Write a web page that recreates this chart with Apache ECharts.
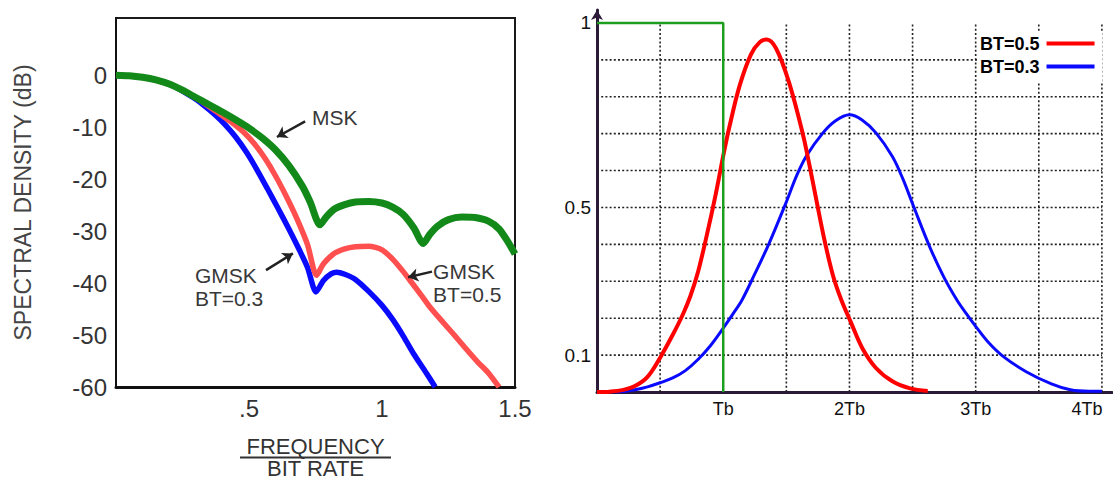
<!DOCTYPE html>
<html>
<head>
<meta charset="utf-8">
<script src="https://cdn.jsdelivr.net/npm/echarts@6/dist/echarts.min.js"></script>
<style>
  html, body { margin: 0; padding: 0; background: #ffffff; }
  #chart { width: 1113px; height: 479px; }
</style>
</head>
<body>
<div id="chart"></div>
<script>
// ---- Power spectral density (dB) vs normalised frequency f/Rb ----
const mskSpectrum = [
  [0, 0], [0.05, -0.1], [0.1, -0.4], [0.15, -0.9], [0.2, -1.7], [0.25, -2.9],
  [0.3, -4.3], [0.35, -5.7], [0.4, -7.1], [0.45, -8.6], [0.5, -10.2], [0.55, -12.1],
  [0.6, -14.4], [0.65, -17.4], [0.7, -21.3], [0.73, -24.4], [0.767, -28.8],
  [0.79, -27.3], [0.82, -25.8], [0.86, -24.9], [0.9, -24.4], [0.95, -24.3],
  [1.0, -24.6], [1.04, -25.4], [1.08, -26.8], [1.12, -29.4], [1.155, -32.4],
  [1.18, -30.6], [1.21, -29.0], [1.25, -27.8], [1.3, -27.3], [1.35, -27.4],
  [1.4, -28.1], [1.44, -29.6], [1.47, -31.8], [1.5, -34.4]
];
const gmsk05Spectrum = [
  [0, 0], [0.1, -0.4], [0.2, -1.7], [0.3, -4.3], [0.38, -7.1], [0.43, -8.9],
  [0.48, -11.0], [0.52, -13.2], [0.56, -16.0], [0.6, -19.4], [0.64, -23.3],
  [0.68, -27.6], [0.72, -32.6], [0.754, -38.5], [0.78, -36.3], [0.82, -34.3],
  [0.86, -33.4], [0.9, -33.0], [0.95, -32.9], [1.0, -33.6], [1.04, -35.4],
  [1.08, -37.8], [1.11, -39.8], [1.15, -42.5], [1.18, -44.6], [1.22, -47.0],
  [1.27, -49.9], [1.31, -52.3], [1.36, -55.2], [1.4, -57.3], [1.44, -60]
];
const gmsk03Spectrum = [
  [0, 0], [0.1, -0.4], [0.2, -1.7], [0.29, -4.3], [0.33, -5.8], [0.37, -7.5],
  [0.41, -9.5], [0.45, -11.9], [0.49, -14.8], [0.53, -18.2], [0.57, -21.9],
  [0.61, -25.7], [0.65, -29.6], [0.69, -33.7], [0.72, -37.0], [0.752, -41.7],
  [0.78, -39.5], [0.81, -38.2], [0.83, -37.9], [0.86, -38.3], [0.9, -39.3],
  [0.95, -41.6], [1.0, -44.3], [1.04, -47.0], [1.08, -50.2], [1.12, -53.7],
  [1.16, -56.8], [1.19, -59.2], [1.2, -60]
];
const freqTickLabels = { 0.5: '.5', 1: '1', 1.5: '1.5' };

// ---- Pulse shapes vs time (in bit periods Tb) ----
const rectPulse = [[0, 1], [1, 1], [1, 0]];
const gaussPulse05 = [
  [0, 0], [0.1, 0.001], [0.2, 0.005], [0.3, 0.016], [0.4, 0.041], [0.5, 0.093],
  [0.6, 0.155], [0.68, 0.21], [0.74, 0.26], [0.8, 0.325], [0.87, 0.425], [0.94, 0.535],
  [1.0, 0.64], [1.05, 0.72], [1.13, 0.83], [1.22, 0.915], [1.29, 0.948],
  [1.345, 0.955], [1.42, 0.93], [1.52, 0.84], [1.63, 0.70], [1.68, 0.62],
  [1.735, 0.525], [1.8, 0.415], [1.87, 0.315], [1.935, 0.25], [2.01, 0.19],
  [2.1, 0.12], [2.21, 0.065], [2.34, 0.029], [2.48, 0.01], [2.62, 0.003]
];
const gaussPulse03 = [
  [0, 0], [0.2, 0.001], [0.3, 0.006], [0.4, 0.014], [0.5, 0.025], [0.6, 0.038],
  [0.7, 0.058], [0.8, 0.088], [0.9, 0.126], [1.0, 0.173], [1.08, 0.213],
  [1.15, 0.25], [1.25, 0.32], [1.36, 0.4], [1.5, 0.515], [1.58, 0.585],
  [1.66, 0.64], [1.79, 0.702], [1.89, 0.735], [2.0, 0.751], [2.1, 0.737],
  [2.21, 0.702], [2.34, 0.638], [2.42, 0.58], [2.5, 0.51], [2.64, 0.39],
  [2.75, 0.31], [2.85, 0.25], [2.92, 0.215], [3.0, 0.178], [3.1, 0.135],
  [3.22, 0.096], [3.4, 0.055], [3.6, 0.022], [3.75, 0.006], [3.9, 0.002], [4.0, 0.002]
];
const timeTickLabels = { 1: 'Tb', 2: '2Tb', 3: '3Tb', 4: '4Tb' };
const ampTickLabels = { 0.1: '0.1', 0.5: '0.5', 1: '1' };
const timeGridValues = [0.5, 1, 1.5, 2, 2.5, 3, 3.5, 4];
const ampGridValues = [0.1, 0.2, 0.3, 0.4, 0.5, 0.6, 0.7, 0.8, 0.9];

const FONT = "'Liberation Sans', Arial, Helvetica, sans-serif";

function lookup(table, v) {
  for (const k in table) {
    if (Math.abs(parseFloat(k) - v) < 1e-6) return table[k];
  }
  return '';
}

// dotted reference grid of the pulse plot
function gridRenderer(vertical) {
  return function (params, api) {
    const v = api.value(0);
    const a = vertical ? api.coord([v, 0]) : api.coord([0, v]);
    const b = vertical ? api.coord([v, 1]) : api.coord([4, v]);
    return {
      type: 'line',
      shape: { x1: a[0], y1: a[1], x2: b[0], y2: b[1] },
      style: { stroke: '#222', lineWidth: 1.6, lineDash: [2, 2.2] },
      silent: true
    };
  };
}

function anno(coord, text) {
  return {
    coord: coord,
    label: {
      show: true, formatter: text, fontFamily: FONT, fontSize: 21, color: '#383838',
      align: 'left', verticalAlign: 'middle', position: [0, 0]
    }
  };
}

const option = {
  animation: false,
  backgroundColor: '#ffffff',
  textStyle: { fontFamily: FONT },
  grid: [
    { left: 116, top: 18, width: 399, height: 369, show: true, outerBoundsMode: 'none',
      borderColor: '#1a1a1a', borderWidth: 2, backgroundColor: 'transparent' },
    { left: 597, top: 10, width: 515, height: 382, outerBoundsMode: 'none' }
  ],
  legend: {
    data: ['BT=0.5', 'BT=0.3'],
    orient: 'vertical',
    left: 978, top: 32,
    padding: [2, 8, 6, 2],
    itemGap: 4,
    itemWidth: 48, itemHeight: 4,
    icon: 'rect',
    align: 'right',
    backgroundColor: '#ffffff',
    textStyle: { fontFamily: FONT, fontSize: 18, fontWeight: 'bold', color: '#000',
      lineHeight: 19, padding: [0, 2, 0, 0] }
  },
  xAxis: [
    {
      gridIndex: 0, type: 'value', min: 0, max: 1.5, interval: 0.5,
      axisLine: { show: true, onZero: false, lineStyle: { color: '#111', width: 3 } },
      axisTick: { show: false }, splitLine: { show: false },
      axisLabel: { margin: 9, fontSize: 24, color: '#333', fontFamily: FONT,
        formatter: v => lookup(freqTickLabels, v) },
      name: '{a|FREQUENCY}\n{bar|}\n{b|BIT RATE}',
      nameLocation: 'middle', nameGap: 50,
      nameTextStyle: {
        rich: {
          a: { fontSize: 22, color: '#333', fontFamily: FONT, lineHeight: 19, align: 'center' },
          bar: { width: 151, height: 2, backgroundColor: '#333', lineHeight: 3 },
          b: { fontSize: 22, color: '#333', fontFamily: FONT, lineHeight: 18, align: 'center' }
        }
      }
    },
    {
      gridIndex: 1, type: 'value', min: 0, max: 4.08, interval: 1,
      axisLine: { show: true, onZero: false, lineStyle: { color: '#2b1a38', width: 3 } },
      axisTick: { show: false }, splitLine: { show: false },
      axisLabel: { margin: 8, fontSize: 18, color: '#111', fontFamily: FONT,
        showMaxLabel: false,
        formatter: v => {
          const t = lookup(timeTickLabels, v);
          return t === '4Tb' ? '{r|4Tb}' : t;
        },
        rich: { r: { fontSize: 18, color: '#111', fontFamily: FONT, padding: [0, 30, 0, 0] } }
      }
    }
  ],
  yAxis: [
    {
      gridIndex: 0, type: 'value', min: -60, max: 11, interval: 10,
      axisLine: { show: true, onZero: false, lineStyle: { color: '#111', width: 2 } },
      axisTick: { show: false }, splitLine: { show: false },
      axisLabel: { margin: 9, fontSize: 24, color: '#333', fontFamily: FONT,
        formatter: v => (v <= 0 && v >= -60 ? String(v) : '') },
      name: 'SPECTRAL DENSITY (dB)', nameLocation: 'middle', nameGap: 82, nameRotate: 90,
      nameTextStyle: { fontSize: 23, color: '#444', fontFamily: FONT }
    },
    {
      gridIndex: 1, type: 'value', min: 0, max: 1.035, interval: 0.1,
      axisLine: { show: true, onZero: false, lineStyle: { color: '#2b1a38', width: 3 },
        symbol: ['none', 'arrow'], symbolSize: [9, 10] },
      axisTick: { show: false }, splitLine: { show: false },
      axisLabel: { margin: 6, fontSize: 19, color: '#111', fontFamily: FONT,
        showMaxLabel: false,
        formatter: v => lookup(ampTickLabels, v) }
    }
  ],
  series: [
    // ---- spectrum plot ----
    {
      name: 'GMSK BT=0.3 spectrum', type: 'line', xAxisIndex: 0, yAxisIndex: 0,
      data: gmsk03Spectrum, showSymbol: false, smooth: 0.25, clip: true,
      lineStyle: { color: '#0a0aff', width: 5.5 }, z: 3
    },
    {
      name: 'GMSK BT=0.5 spectrum', type: 'line', xAxisIndex: 0, yAxisIndex: 0,
      data: gmsk05Spectrum, showSymbol: false, smooth: 0.25, clip: true,
      lineStyle: { color: '#ff4f4f', width: 5.5 }, z: 4
    },
    {
      name: 'MSK spectrum', type: 'line', xAxisIndex: 0, yAxisIndex: 0,
      data: mskSpectrum, showSymbol: false, smooth: 0.25, clip: true,
      lineStyle: { color: '#13891a', width: 7 }, z: 5,
      markPoint: {
        symbol: 'circle', symbolSize: 0, silent: true,
        data: [
          anno([0.737, -8.1], 'MSK'),
          anno([0.297, -38.5], 'GMSK'),
          anno([0.297, -43.0], 'BT=0.3'),
          anno([1.192, -37.8], 'GMSK'),
          anno([1.192, -42.2], 'BT=0.5')
        ]
      },
      markLine: {
        silent: true, symbol: ['none', 'arrow'], symbolSize: 10,
        label: { show: false },
        lineStyle: { color: '#222', width: 2.5, type: 'solid' },
        data: [
          [{ coord: [0.711, -8.9] }, { coord: [0.605, -11.9] }],
          [{ coord: [0.564, -37.5] }, { coord: [0.665, -34.3] }],
          [{ coord: [1.188, -37.8] }, { coord: [1.098, -38.9] }]
        ]
      }
    },
    // ---- pulse plot ----
    {
      name: 'time grid', type: 'custom', xAxisIndex: 1, yAxisIndex: 1,
      data: timeGridValues.map(v => [v]), renderItem: gridRenderer(true),
      silent: true, z: 1, clip: false
    },
    {
      name: 'amplitude grid', type: 'custom', xAxisIndex: 1, yAxisIndex: 1,
      data: ampGridValues.map(v => [v]), renderItem: gridRenderer(false),
      silent: true, z: 1, clip: false
    },
    {
      name: 'BT=0.3', type: 'line', xAxisIndex: 1, yAxisIndex: 1,
      data: gaussPulse03, showSymbol: false, smooth: 0.35,
      color: '#0a0aff', lineStyle: { color: '#0a0aff', width: 3 }, z: 3
    },
    {
      name: 'BT=0.5', type: 'line', xAxisIndex: 1, yAxisIndex: 1,
      data: gaussPulse05, showSymbol: false, smooth: 0.35,
      color: '#ff0000', lineStyle: { color: '#ff0000', width: 4 }, z: 4
    },
    {
      name: 'rect', type: 'line', xAxisIndex: 1, yAxisIndex: 1,
      data: rectPulse, showSymbol: false,
      lineStyle: { color: '#1e9e1e', width: 2.5 }, z: 5
    }
  ]
};

const chart = echarts.init(document.getElementById('chart'), null, { renderer: 'svg' });
chart.setOption(option);
</script>
</body>
</html>
